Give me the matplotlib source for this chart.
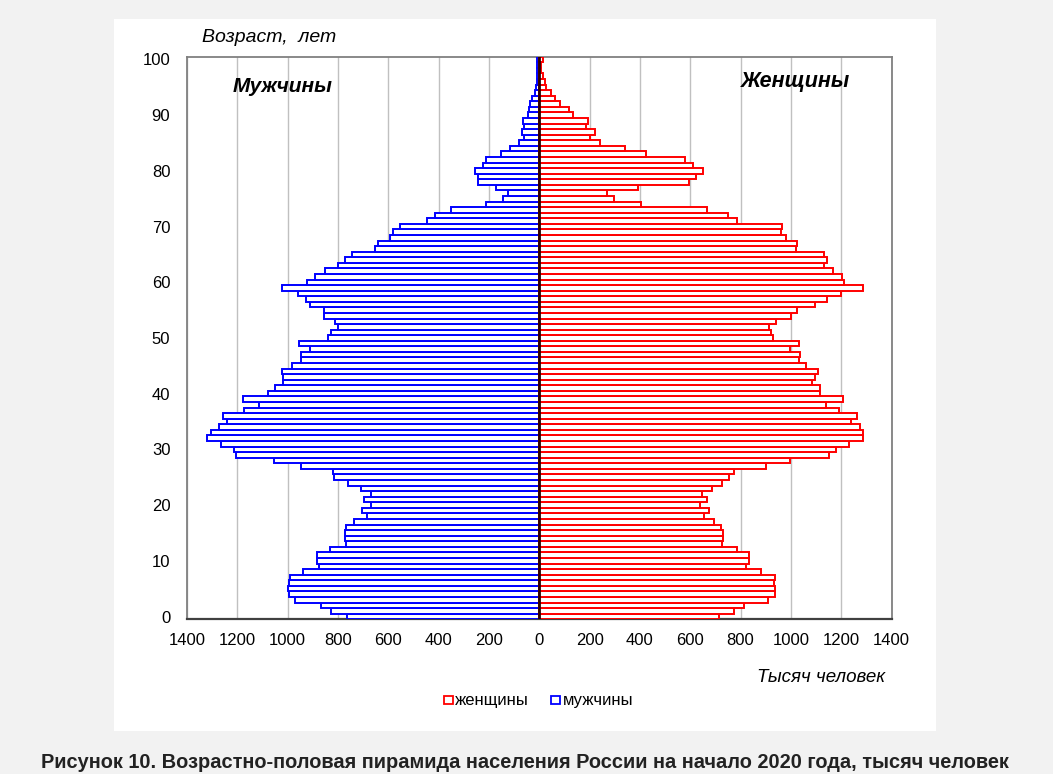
import numpy as np
import matplotlib
matplotlib.use("Agg")
import matplotlib.pyplot as plt
from matplotlib.patches import Rectangle

ages = list(range(0, 101))
male = [763, 827, 869, 971, 995, 999, 995, 990, 938, 876,
        882, 882, 832, 767, 774, 774, 767, 737, 683, 706,
        670, 697, 670, 710, 759, 816, 820, 946, 1055, 1207,
        1214, 1265, 1320, 1304, 1274, 1241, 1257, 1172, 1113, 1178,
        1077, 1052, 1018, 1018, 1022, 982, 946, 946, 912, 953,
        839, 827, 799, 813, 856, 856, 912, 929, 959, 1022,
        922, 893, 852, 799, 774, 743, 654, 640, 594, 581,
        553, 445, 415, 349, 212, 146, 126, 171, 242, 243,
        255, 222, 210, 153, 115, 80, 62, 70, 60, 66,
        46, 40, 36, 27, 17, 13, 10, 9, 8, 8, 9]
female = [715, 775, 815, 910, 937, 937, 932, 937, 881, 823,
          834, 834, 786, 728, 732, 732, 721, 696, 654, 674,
          638, 667, 648, 685, 728, 756, 775, 900, 995, 1150,
          1179, 1232, 1286, 1286, 1276, 1239, 1262, 1192, 1138, 1208,
          1114, 1114, 1085, 1097, 1109, 1061, 1031, 1036, 995, 1031,
          930, 921, 912, 941, 1002, 1024, 1097, 1143, 1198, 1286,
          1211, 1204, 1168, 1131, 1143, 1131, 1019, 1024, 979, 959,
          966, 787, 752, 668, 406, 299, 269, 394, 597, 622,
          650, 613, 580, 423, 341, 240, 202, 222, 185, 192,
          136, 119, 83, 64, 48, 28, 21, 15, 8, 8, 13]
x_ticks = [-1400, -1200, -1000, -800, -600, -400, -200, 0, 200, 400, 600, 800, 1000, 1200, 1400]
y_ticks = [0, 10, 20, 30, 40, 50, 60, 70, 80, 90, 100]

plt.rcParams['font.family'] = ['Liberation Sans', 'DejaVu Sans']

W, H = 1053, 774
fig = plt.figure(figsize=(W / 100, H / 100), dpi=100)
fig.patch.set_facecolor('#f2f2f2')

def fx(px):
    return px / W

def fy(py):
    return 1 - py / H

# white panel
panel = Rectangle((fx(114), fy(731)), fx(936) - fx(114), fy(19) - fy(731),
                  transform=fig.transFigure, facecolor='white', edgecolor='none', zorder=-5)
fig.patches.append(panel)

ax = fig.add_axes([fx(187), fy(619.3), fx(891.5) - fx(187), fy(56.7) - fy(619.3)])
ax.set_zorder(2)
ax.set_facecolor('white')

ax.barh(ages, [-v for v in male], height=1.0, facecolor='white', edgecolor='#0000ff',
        linewidth=1.4, zorder=3)
ax.barh(ages, female, height=1.0, facecolor='white', edgecolor='#ff0000',
        linewidth=1.4, zorder=3)
ax.axvline(0, color='#2a0000', linewidth=2.0, zorder=4)

ax.set_xlim(-1400, 1400)
ax.set_ylim(-0.5, 100.5)
ax.set_xticks(x_ticks)
ax.set_xticklabels([str(abs(v)) for v in x_ticks], fontsize=12)
ax.set_yticks(y_ticks)
ax.set_yticklabels([str(v) for v in y_ticks], fontsize=12)
ax.tick_params(axis='both', length=0, colors='#000000')
ax.tick_params(axis='x', pad=10)
ax.tick_params(axis='y', pad=12)
ax.xaxis.grid(True, color='#c0c0c0', linewidth=1.0, zorder=0)
ax.set_axisbelow(True)
for s in ['left', 'right', 'top']:
    ax.spines[s].set_color('#808080')
    ax.spines[s].set_linewidth(1.3)
ax.spines['bottom'].set_color('#404040')
ax.spines['bottom'].set_linewidth(1.6)

fig.text(fx(202), fy(38), 'Возраст,  лет', fontsize=14, style='italic', ha='left', va='center', zorder=5)
fig.text(fx(233), fy(86), 'Мужчины', fontsize=15, style='italic', weight='bold', ha='left', va='center', zorder=5)
fig.text(fx(741), fy(82), 'Женщины', fontsize=15.5, style='italic', weight='bold', ha='left', va='center', zorder=5)
fig.text(fx(885), fy(678), 'Тысяч человек', fontsize=13.5, style='italic', ha='right', va='center', zorder=5)

# legend
leg_y = 700
fig.patches.append(Rectangle((fx(444), fy(leg_y + 4)), fx(9), 8 / H, transform=fig.transFigure,
                             facecolor='white', edgecolor='#ff0000', linewidth=1.3, zorder=5))
fig.text(fx(455), fy(leg_y), 'женщины', fontsize=12, ha='left', va='center', zorder=5)
fig.patches.append(Rectangle((fx(551), fy(leg_y + 4)), fx(9), 8 / H, transform=fig.transFigure,
                             facecolor='white', edgecolor='#0000ff', linewidth=1.3, zorder=5))
fig.text(fx(563), fy(leg_y), 'мужчины', fontsize=12, ha='left', va='center', zorder=5)

fig.text(fx(525), fy(763),
         'Рисунок 10. Возрастно-половая пирамида населения России на начало 2020 года, тысяч человек',
         fontsize=14.4, weight='bold', ha='center', va='center', color='#222222', zorder=5)

fig.savefig('out.png', dpi=100, facecolor=fig.get_facecolor())
